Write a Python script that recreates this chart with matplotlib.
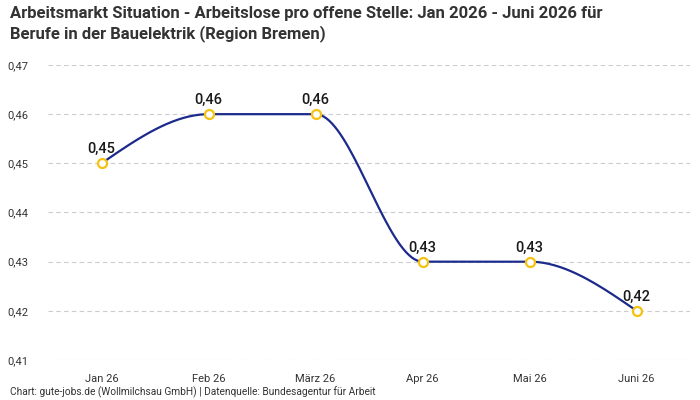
import numpy as np
import matplotlib
matplotlib.use("Agg")
import matplotlib.pyplot as plt

months = ["Jan 26", "Feb 26", "März 26", "Apr 26", "Mai 26", "Juni 26"]
values = [0.45, 0.46, 0.46, 0.43, 0.43, 0.42]
yticks = [0.41, 0.42, 0.43, 0.44, 0.45, 0.46, 0.47]
title = ("Arbeitsmarkt Situation - Arbeitslose pro offene Stelle: Jan 2026 - Juni 2026 für\n"
         "Berufe in der Bauelektrik (Region Bremen)")
source = "Chart: gute-jobs.de (Wollmilchsau GmbH) | Datenquelle: Bundesagentur für Arbeit"

plt.rcParams['font.family'] = ['Roboto', 'DejaVu Sans']


def monotone_x(x, y, n=40):
    x = np.asarray(x, float); y = np.asarray(y, float)
    m = len(x)
    h = np.diff(x); s = np.diff(y) / h
    t = np.zeros(m)
    for i in range(1, m - 1):
        p = (s[i - 1] * h[i] + s[i] * h[i - 1]) / (h[i - 1] + h[i])
        t[i] = (np.sign(s[i - 1]) + np.sign(s[i])) * min(abs(s[i - 1]), abs(s[i]), 0.5 * abs(p))
    t[0] = (3 * s[0] - t[1]) / 2
    t[-1] = (3 * s[-1] - t[-2]) / 2
    xs, ys = [], []
    for i in range(m - 1):
        u = np.linspace(0, 1, n)
        h00 = 2 * u**3 - 3 * u**2 + 1
        h10 = u**3 - 2 * u**2 + u
        h01 = -2 * u**3 + 3 * u**2
        h11 = u**3 - u**2
        xs.append(x[i] + u * h[i])
        ys.append(h00 * y[i] + h10 * h[i] * t[i] + h01 * y[i + 1] + h11 * h[i] * t[i + 1])
    return np.concatenate(xs), np.concatenate(ys)


fig = plt.figure(figsize=(7, 4), dpi=100)
ax = fig.add_axes([0.0686, 0.1, 0.9174, 0.7375])

xi = np.arange(len(months))
cx, cy = monotone_x(xi, values)
ax.plot(cx, cy, color="#1c2a8c", lw=1.6, zorder=3, solid_capstyle="round")
ax.plot(xi, values, "o", ms=6.5, mfc="white", mec="#f5c211", mew=1.6, zorder=4)
for x, v in zip(xi, values):
    ax.annotate(f"{v:.2f}".replace(".", ","), (x, v), xytext=(0, 5), textcoords="offset points",
                ha="center", va="bottom", fontsize=10.5, fontweight="medium", color="#1a1a1a")

ax.set_xlim(-0.5, len(months) - 0.5)
ax.set_ylim(0.41, 0.47)
ax.set_yticks(yticks)
ax.set_yticklabels([f"{v:.2f}".replace(".", ",") for v in yticks])
ax.set_xticks(xi)
ax.set_xticklabels(months)
ax.tick_params(length=0, labelsize=8, colors="#333333")
ax.tick_params(axis="x", pad=10)
ax.tick_params(axis="y", pad=14)
ax.grid(axis="y", color="#cccccc", ls=(0, (4, 3)), lw=0.8)
for sp in ax.spines.values():
    sp.set_visible(False)

fig.text(0.014, 0.985, title, ha="left", va="top", fontsize=12, fontweight="bold",
         color="#333333", linespacing=1.3)
fig.text(0.014, 0.006, source, ha="left", va="bottom", fontsize=7.3, color="#333333")

fig.savefig("out.png", dpi=100)
